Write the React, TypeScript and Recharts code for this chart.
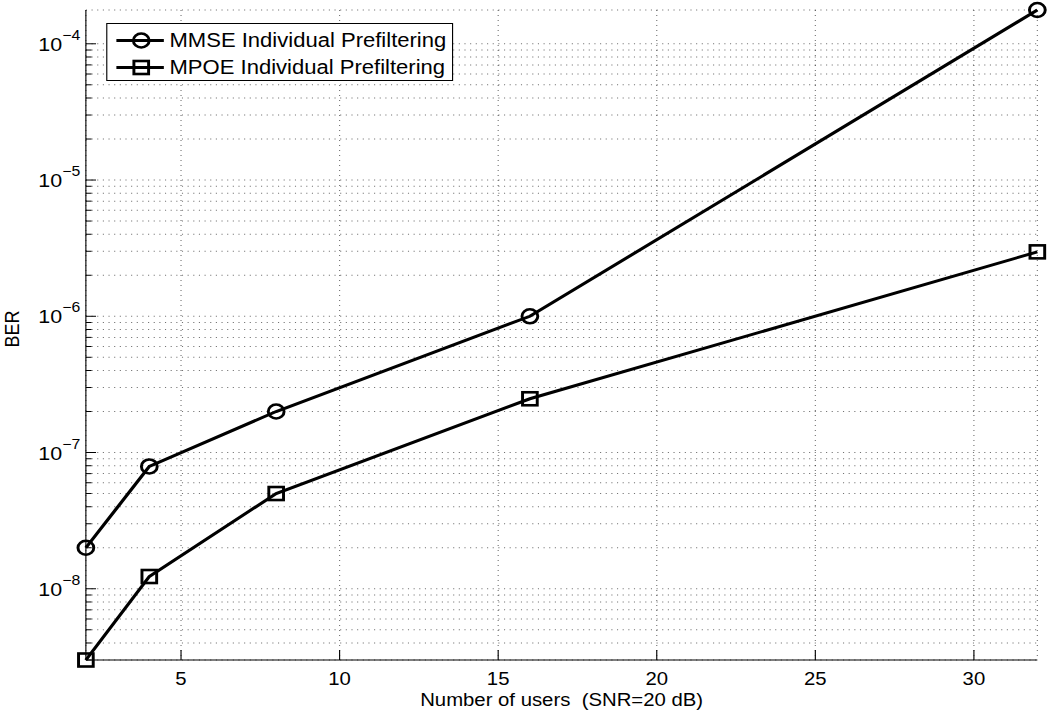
import React from "react";
import {
  LineChart,
  Line,
  XAxis,
  YAxis,
  CartesianGrid,
  Legend,
} from "recharts";

// the reference is slightly stretched horizontally, so the chart is drawn narrower and scaled
const SX = 1.13;
const W = Math.round(1051 / SX);
const H = 718;
const FONT = '"Liberation Sans", Arial, Helvetica, sans-serif';

const users = [2, 4, 8, 16, 32];
const mmseBer = [2e-8, 7.9e-8, 2e-7, 1e-6, 1.77e-4];
const mpoeBer = [3e-9, 1.23e-8, 5e-8, 2.48e-7, 2.97e-6];

const xTicks = [5, 10, 15, 20, 25, 30];
const majorTicks = [1e-8, 1e-7, 1e-6, 1e-5, 1e-4];
const minorMult = [2, 3, 4, 5, 6, 7, 8, 9];
const yDomain = [3e-9, 1.77e-4];

const decades = [1e-9, ...majorTicks];
const yTicks = decades
  .flatMap((d) => [d, ...minorMult.map((m) => Number((m * d).toPrecision(3)))])
  .filter((v) => v >= yDomain[0] && v <= yDomain[1]);

const data = users.map((u, i) => ({ users: u, mmse: mmseBer[i], mpoe: mpoeBer[i] }));

const isMajor = (v: number) => majorTicks.some((m) => Math.abs(m - v) / m < 1e-6);

function LeftTick({ x, y, payload }: any) {
  const v = payload.value;
  const major = isMajor(v);
  const exp = Math.round(Math.log10(v));
  return (
    <g>
      <line x1={x} x2={x + (major ? 9 : 5)} y1={y} y2={y} stroke="#000" />
      {major && (
        <text x={x - 5} y={y + 7} textAnchor="end" fontSize={19} fontFamily={FONT} fill="#000">
          10
          <tspan dy={-11} fontSize={14}>
            {"\u2212" + Math.abs(exp)}
          </tspan>
        </text>
      )}
    </g>
  );
}

function RightTick({ x, y, payload }: any) {
  const major = isMajor(payload.value);
  return <line x1={x - (major ? 9 : 5)} x2={x} y1={y} y2={y} stroke="#000" />;
}

function BottomTick({ x, y, payload }: any) {
  return (
    <g>
      <line x1={x} x2={x} y1={y} y2={y - 10} stroke="#000" />
      <text x={x} y={y + 25} textAnchor="middle" fontSize={18} fontFamily={FONT} fill="#000">
        {payload.value}
      </text>
    </g>
  );
}

function TopTick({ x, y }: any) {
  return <line x1={x} x2={x} y1={y} y2={y + 10} stroke="#000" />;
}

function CircleDot({ cx, cy }: any) {
  return <circle cx={cx} cy={cy} r={7} fill="none" stroke="#000" strokeWidth={2.6} />;
}

function SquareDot({ cx, cy }: any) {
  return <rect x={cx - 6.5} y={cy - 6.5} width={13} height={13} fill="none" stroke="#000" strokeWidth={2.6} />;
}

const series = [
  { key: "mmse", name: "MMSE Individual Prefiltering", Dot: CircleDot },
  { key: "mpoe", name: "MPOE Individual Prefiltering", Dot: SquareDot },
];

function LegendBox() {
  return (
    <div
      style={{
        width: 307,
        height: 58,
        boxSizing: "border-box",
        border: "1px solid #000",
        background: "#fff",
        paddingTop: 3,
        fontFamily: FONT,
        fontSize: 19.5,
        color: "#000",
      }}
    >
      {series.map(({ key, name, Dot }) => (
        <div key={key} style={{ display: "flex", alignItems: "center", height: 27 }}>
          <svg width={52} height={27} style={{ flex: "none" }}>
            <line x1={8} x2={50} y1={13.5} y2={13.5} stroke="#000" strokeWidth={3} />
            <Dot cx={30} cy={13.5} />
          </svg>
          <span style={{ marginLeft: 3, whiteSpace: "nowrap" }}>{name}</span>
        </div>
      ))}
    </div>
  );
}

export default function App() {
  return (
    <div style={{ position: "absolute", left: 0, top: 0, width: 1051, height: H, background: "#fff" }}>
      <div style={{ width: W, height: H, transform: `scaleX(${SX})`, transformOrigin: "left top" }}>
        <LineChart width={W} height={H} data={data} margin={{ top: 10, right: 12, bottom: 0, left: 0 }}>
          <CartesianGrid stroke="#000" strokeOpacity={0.55} strokeDasharray="1 4" />
          <XAxis
            dataKey="users"
            type="number"
            domain={[2, 32]}
            ticks={xTicks}
            interval={0}
            height={58}
            tickSize={0}
            tickMargin={0}
            tickLine={false}
            axisLine={{ stroke: "#000" }}
            tick={<BottomTick />}
            label={{
              value: "Number of users \u00a0(SNR=20 dB)",
              position: "insideBottom",
              offset: 12,
              fill: "#000",
              fontSize: 18,
              fontFamily: FONT,
            }}
          />
          <XAxis
            xAxisId="top"
            orientation="top"
            dataKey="users"
            type="number"
            domain={[2, 32]}
            ticks={xTicks}
            interval={0}
            height={0}
            tickSize={0}
            tickMargin={0}
            tickLine={false}
            axisLine={{ stroke: "#000" }}
            tick={<TopTick />}
          />
          <YAxis
            scale="log"
            type="number"
            domain={yDomain}
            ticks={yTicks}
            interval={0}
            width={76}
            tickSize={0}
            tickMargin={0}
            tickLine={false}
            axisLine={{ stroke: "#000" }}
            tick={<LeftTick />}
            label={{
              value: "BER",
              angle: -90,
              position: "insideLeft",
              offset: 10,
              dy: -6,
              fill: "#000",
              fontSize: 18,
              fontFamily: FONT,
              style: { textAnchor: "middle" },
            }}
          />
          <YAxis
            yAxisId="right"
            orientation="right"
            scale="log"
            type="number"
            domain={yDomain}
            ticks={yTicks}
            interval={0}
            width={0}
            tickSize={0}
            tickMargin={0}
            tickLine={false}
            axisLine={{ stroke: "#000" }}
            tick={<RightTick />}
          />
          <Legend
            verticalAlign="middle"
            align="center"
            wrapperStyle={{ left: 94, top: 23, width: 307, height: 58 }}
            content={() => <LegendBox />}
          />
          {series.map(({ key, name, Dot }) => (
            <Line
              key={key}
              dataKey={key}
              name={name}
              stroke="#000"
              strokeWidth={3}
              dot={<Dot />}
              activeDot={false}
              isAnimationActive={false}
            />
          ))}
        </LineChart>
      </div>
    </div>
  );
}
